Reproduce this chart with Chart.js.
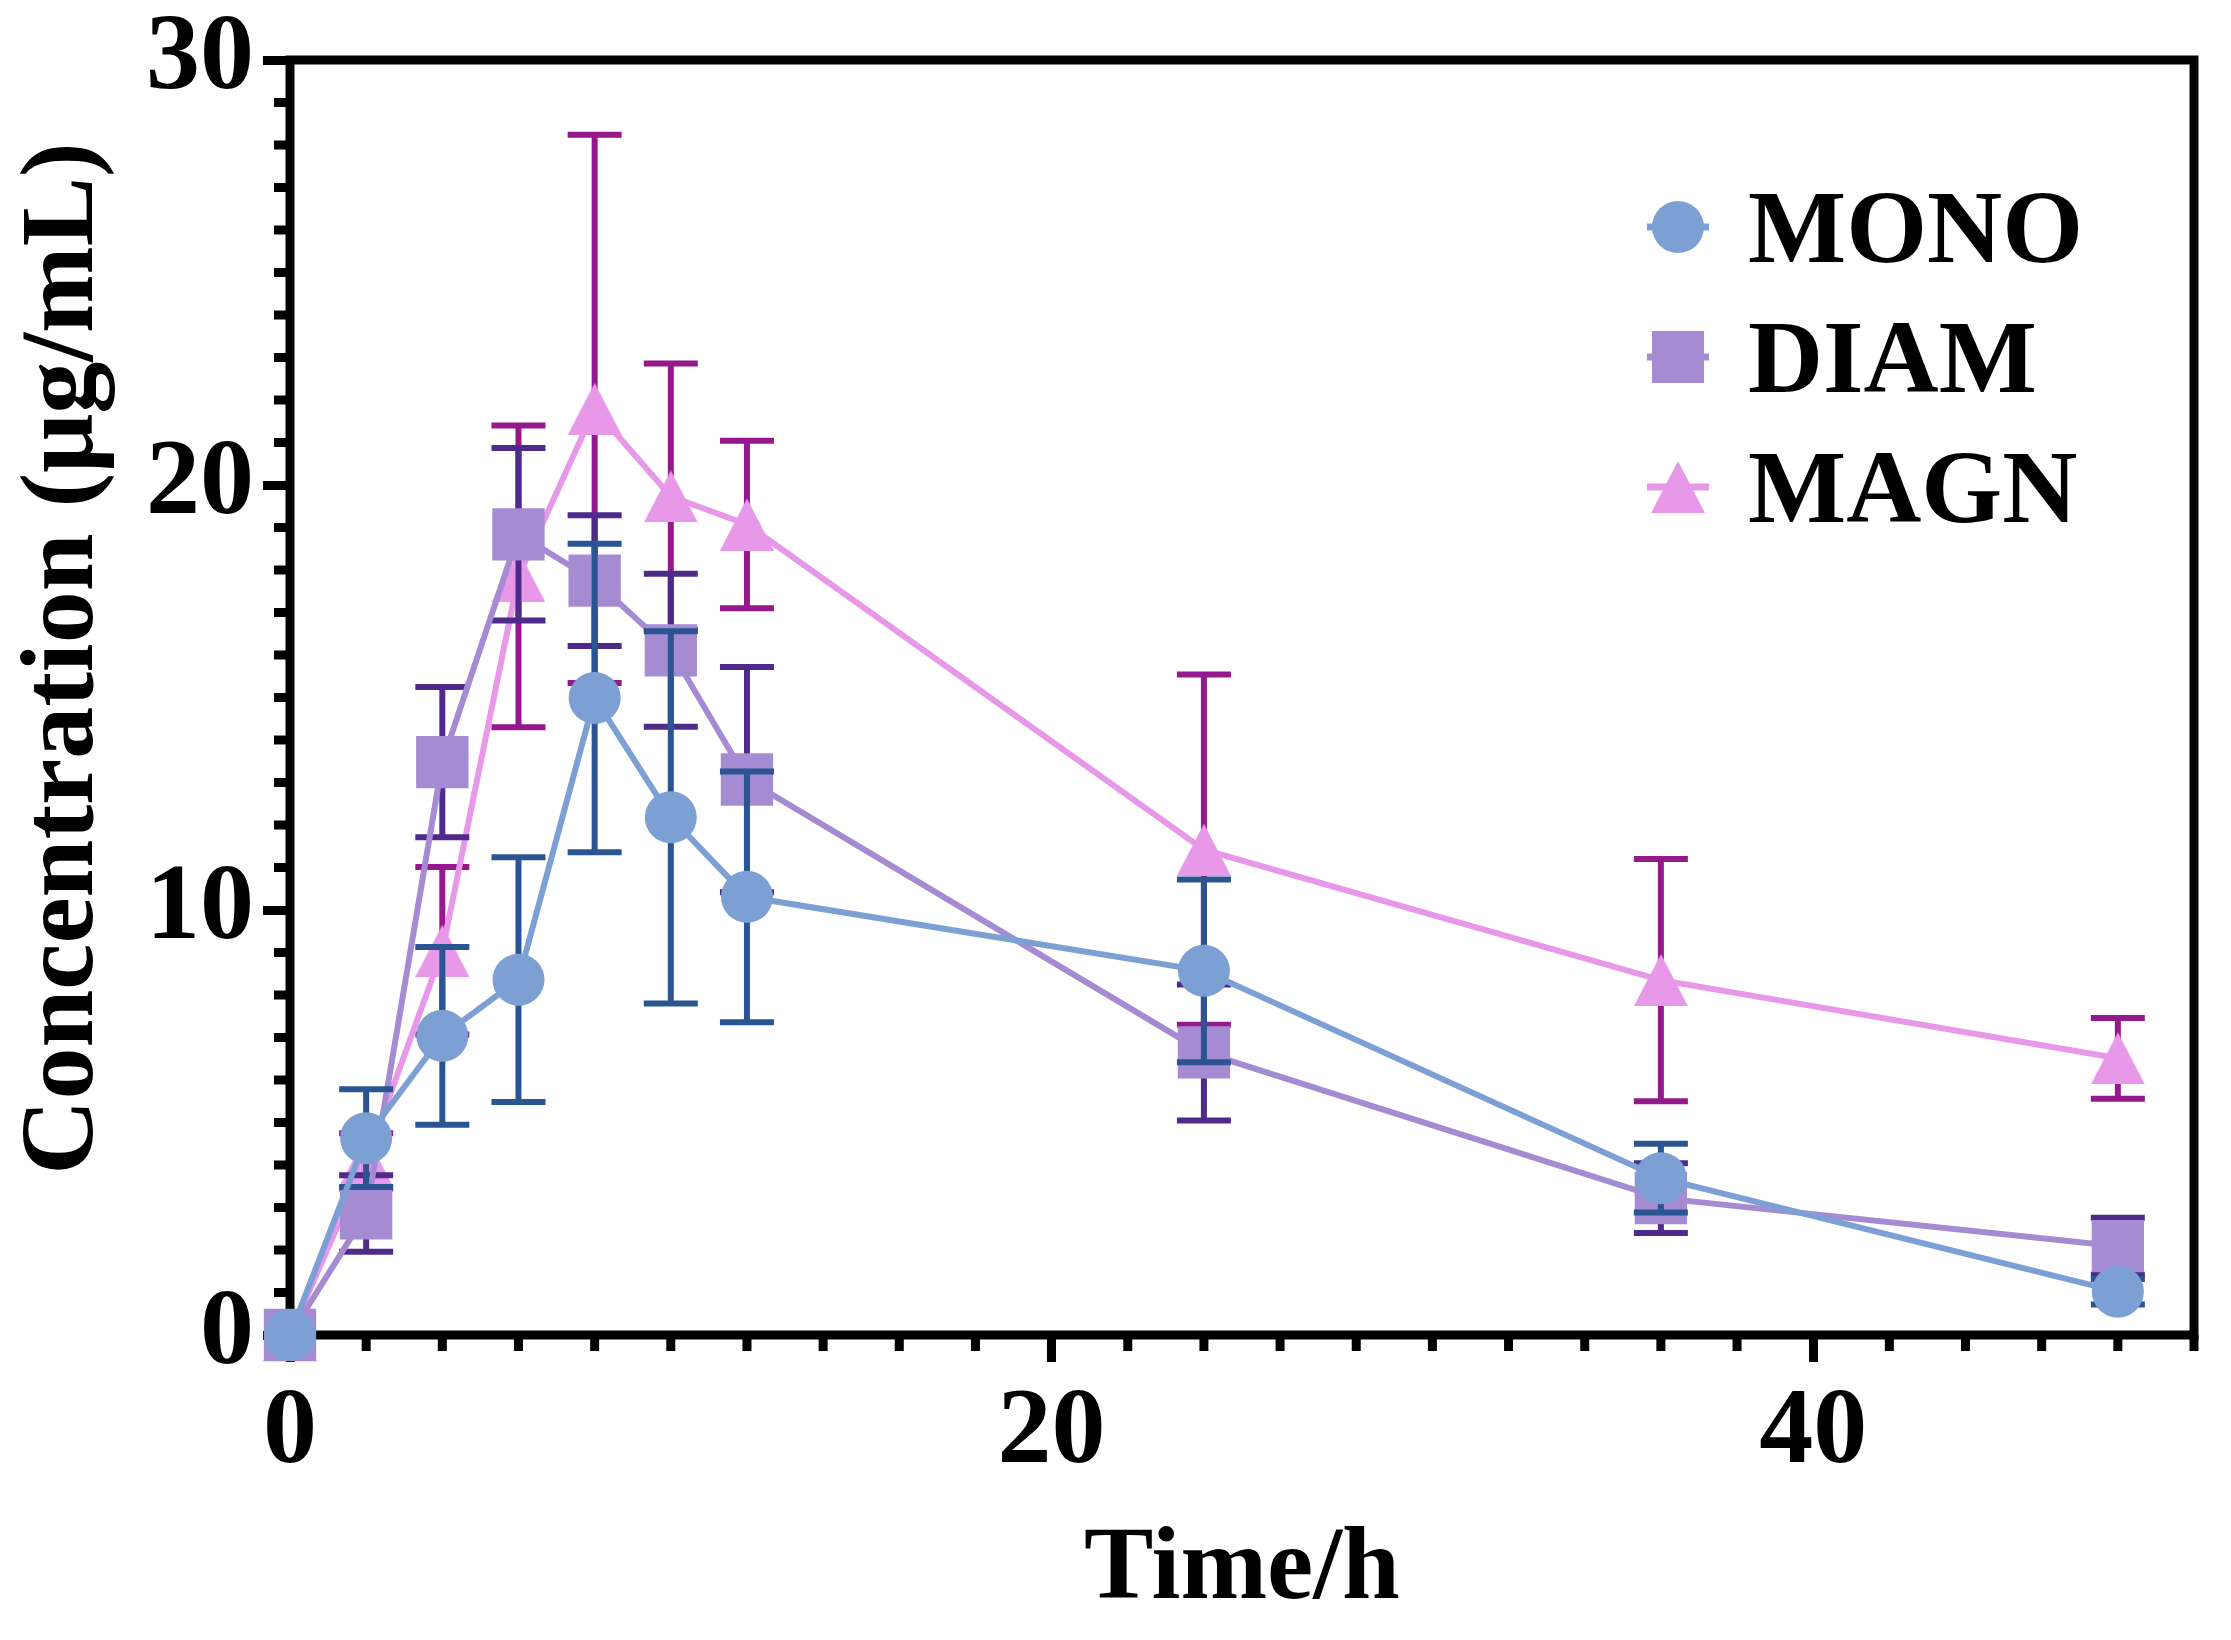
<!DOCTYPE html>
<html>
  <head>
    <meta charset="UTF-8">
    <title>concentration chart</title>
    <script src="https://cdn.jsdelivr.net/npm/chart.js@4/dist/chart.umd.min.js"></script>
    <style type="text/css">
      body { margin: 0; background: #fff; overflow: hidden; }
      canvas { display: block; }
    </style>
  </head>
  <body>
    <canvas id="myChart" width="2231" height="1640"></canvas>
    <script>
    // sampling times (h)
    var times = [0, 2, 4, 6, 8, 10, 12, 24, 36, 48];

    // mean concentration and SD, ug/mL
    var monoMean = [0, 4.63, 7.04, 8.36, 14.99, 12.18, 10.31, 8.57, 3.69, 1.02];
    var monoSd   = [0, 1.15, 2.09, 2.88, 3.63, 4.38, 2.95, 2.15, 0.81, 0.3];
    var diamMean = [0, 2.86, 13.48, 18.84, 17.75, 16.11, 13.07, 6.65, 3.22, 2.09];
    var diamSd   = [0, 0.9, 1.77, 2.03, 1.54, 1.8, 2.65, 1.6, 0.82, 0.67];
    var magnMean = [0, 4.1, 9.04, 17.85, 21.79, 19.73, 19.07, 11.42, 8.35, 6.51];
    var magnSd   = [0, 0.65, 1.97, 3.55, 6.45, 3.13, 1.97, 4.12, 2.85, 0.95];

    var seriesNames = ["MONO", "DIAM", "MAGN"];
    var xTickLabels = [0, 20, 40];
    var yTickLabels = [0, 10, 20, 30];

    var serif = "'Liberation Serif', 'Times New Roman', serif";
    var colors = ['#7ca0d4', '#a48bd2', '#e898e8'];
    var errColors = ['#2b5592', '#4e2b8b', '#93198c'];
    var sdSets = [monoSd, diamSd, magnSd];

    function triangleImg(color) {
      var c = document.createElement('canvas');
      c.width = 54; c.height = 52;
      var g = c.getContext('2d');
      g.fillStyle = color;
      g.beginPath();
      g.moveTo(27, 0); g.lineTo(54, 52); g.lineTo(0, 52);
      g.closePath();
      g.fill();
      return c;
    }
    var tri = triangleImg(colors[2]);
    var styles = ['circle', 'rect', tri];
    var radii = [26, 37, 26];

    function points(means) {
      var out = [];
      for (var i = 0; i < times.length; i++) out.push({x: times[i], y: means[i]});
      return out;
    }

    // error bars drawn just before each dataset so later series sit on top
    var errorBars = {
      id: 'errorBars',
      beforeDatasetDraw: function(chart, args) {
        var ctx = chart.ctx, y = chart.scales.y;
        var sd = sdSets[args.index], means = chart.data.datasets[args.index].data;
        ctx.save();
        ctx.strokeStyle = errColors[args.index];
        ctx.lineWidth = 6;
        args.meta.data.forEach(function(pt, i) {
          if (!sd[i]) return;
          var top = y.getPixelForValue(means[i].y + sd[i]);
          var bot = y.getPixelForValue(means[i].y - sd[i]);
          ctx.beginPath();
          ctx.moveTo(pt.x, top); ctx.lineTo(pt.x, bot);
          ctx.moveTo(pt.x - 27, top); ctx.lineTo(pt.x + 27, top);
          ctx.moveTo(pt.x - 27, bot); ctx.lineTo(pt.x + 27, bot);
          ctx.stroke();
        });
        ctx.restore();
      }
    };

    // box frame and minor ticks
    var frame = {
      id: 'frame',
      beforeDatasetsDraw: function(chart) {
        var ctx = chart.ctx, a = chart.chartArea;
        var xs = chart.scales.x, ys = chart.scales.y;
        ctx.save();
        ctx.strokeStyle = '#000';
        ctx.lineWidth = 9;
        ctx.lineJoin = 'miter';
        ctx.strokeRect(a.left, a.top, a.right - a.left, a.bottom - a.top);
        ctx.beginPath();
        for (var t = 2; t <= 50; t += 2) {
          if (t % 20 === 0) continue;
          var px = xs.getPixelForValue(t);
          ctx.moveTo(px, a.bottom); ctx.lineTo(px, a.bottom + 16);
        }
        for (var v = 1; v < 30; v++) {
          if (v % 10 === 0) continue;
          var py = ys.getPixelForValue(v);
          ctx.moveTo(a.left, py); ctx.lineTo(a.left - 16, py);
        }
        ctx.stroke();
        ctx.restore();
      }
    };

    var legendBox = {
      id: 'legendBox',
      afterDatasetsDraw: function(chart) {
        var ctx = chart.ctx, a = chart.chartArea;
        var cx = a.right - 516;
        ctx.save();
        seriesNames.forEach(function(name, i) {
          var cy = a.top + 167 + i * 130;
          ctx.strokeStyle = colors[i];
          ctx.lineWidth = 7;
          ctx.beginPath();
          ctx.moveTo(cx - 31, cy); ctx.lineTo(cx + 31, cy);
          ctx.stroke();
          ctx.fillStyle = colors[i];
          if (i === 0) {
            ctx.beginPath(); ctx.arc(cx, cy, 26, 0, Math.PI * 2); ctx.fill();
          } else if (i === 1) {
            ctx.fillRect(cx - 26, cy - 26, 52, 52);
          } else {
            ctx.drawImage(tri, cx - tri.width / 2, cy - tri.height / 2);
          }
          ctx.fillStyle = '#000';
          ctx.font = 'bold 104px ' + serif;
          ctx.textBaseline = 'alphabetic';
          ctx.fillText(name, cx + 70, cy + 35);
        });
        ctx.restore();
      }
    };

    var means = [monoMean, diamMean, magnMean];
    var datasets = seriesNames.map(function(name, i) {
      return {
        label: name,
        data: points(means[i]),
        borderColor: colors[i],
        backgroundColor: colors[i],
        borderWidth: 6,
        pointStyle: styles[i],
        pointRadius: radii[i],
        pointHoverRadius: radii[i],
        pointBorderWidth: 0,
        pointBackgroundColor: colors[i],
        tension: 0,
        clip: false
      };
    });

    var ctx = document.getElementById('myChart').getContext('2d');
    var chart = new Chart(ctx, {
      type: 'line',
      data: { datasets: datasets },
      options: {
        responsive: false,
        devicePixelRatio: 1,
        animation: false,
        events: [],
        layout: { padding: { left: 0, top: 60, right: 31, bottom: 0 } },
        plugins: { legend: { display: false }, tooltip: { enabled: false } },
        scales: {
          x: {
            type: 'linear',
            position: 'bottom',
            min: 0, max: 50,
            border: { display: false },
            grid: { drawOnChartArea: false, drawTicks: true, tickLength: 27, tickWidth: 9, tickColor: '#000', lineWidth: 9, color: '#000' },
            ticks: {
              stepSize: 20,
              padding: 7,
              color: '#000',
              font: { family: serif, size: 108, weight: 'bold' },
              callback: function(v) { return xTickLabels.indexOf(v) >= 0 ? String(v) : null; }
            },
            title: {
              display: true,
              text: 'Time/h',
              color: '#000',
              padding: { top: 0, bottom: 6 },
              font: { family: serif, size: 104, weight: 'bold' }
            },
            afterFit: function(s) { s.height = 305; s.paddingLeft = 0; s.paddingRight = 0; }
          },
          y: {
            min: 0, max: 30,
            border: { display: false },
            grid: { drawOnChartArea: false, drawTicks: true, tickLength: 27, tickWidth: 9, tickColor: '#000', lineWidth: 9, color: '#000' },
            ticks: {
              stepSize: 10,
              padding: 9,
              color: '#000',
              font: { family: serif, size: 108, weight: 'bold' },
              callback: function(v) { return yTickLabels.indexOf(v) >= 0 ? String(v) : null; }
            },
            title: {
              display: true,
              text: '   Concentration (\u03bcg/mL)',
              color: '#000',
              padding: { top: 3, bottom: 0 },
              font: { family: serif, size: 104, weight: 'bold' }
            },
            afterFit: function(s) { s.width = 290; s.paddingTop = 0; s.paddingBottom = 0; }
          }
        }
      },
      plugins: [errorBars, frame, legendBox]
    });
    </script>
  </body>
</html>
